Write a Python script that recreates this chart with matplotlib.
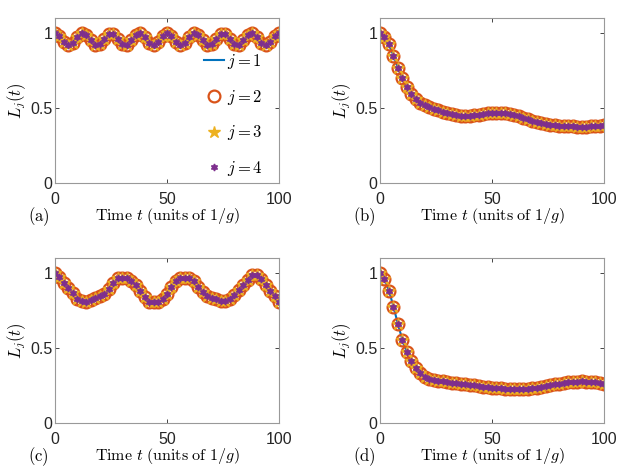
import numpy as np
import matplotlib
matplotlib.use('Agg')
import matplotlib.pyplot as plt

plt.rcParams['font.family'] = ['Liberation Sans', 'DejaVu Sans']
plt.rcParams['mathtext.fontset'] = 'cm'

# time grid (units of 1/g)
t = np.arange(0, 101, 2)

# panel (a)
L_a = [1.000, 0.981, 0.943, 0.920, 0.935, 0.972, 0.999, 0.989, 0.953, 0.923,
       0.928, 0.963, 0.995, 0.995, 0.963, 0.928, 0.923, 0.953, 0.989, 0.999,
       0.972, 0.935, 0.920, 0.943, 0.981, 1.000, 0.981, 0.943, 0.920, 0.935,
       0.972, 0.999, 0.989, 0.953, 0.923, 0.928, 0.963, 0.995, 0.995, 0.963,
       0.928, 0.923, 0.953, 0.989, 0.999, 0.972, 0.935, 0.920, 0.943, 0.981,
       1.000]

# panel (b)
L_b = [1.000, 0.975, 0.925, 0.850, 0.770, 0.700, 0.640, 0.595, 0.560, 0.535,
       0.518, 0.505, 0.495, 0.485, 0.475, 0.465, 0.457, 0.450, 0.447, 0.446,
       0.447, 0.450, 0.455, 0.460, 0.465, 0.468, 0.469, 0.468, 0.465, 0.460,
       0.452, 0.443, 0.434, 0.425, 0.416, 0.408, 0.400, 0.394, 0.389, 0.385,
       0.382, 0.380, 0.378, 0.377, 0.376, 0.376, 0.376, 0.377, 0.379, 0.381,
       0.384]

# panel (c)
L_c = [1.000, 0.976, 0.934, 0.898, 0.865, 0.831, 0.812, 0.809, 0.820, 0.836,
       0.849, 0.862, 0.893, 0.934, 0.965, 0.971, 0.967, 0.949, 0.922, 0.882,
       0.842, 0.809, 0.805, 0.809, 0.831, 0.862, 0.911, 0.949, 0.967, 0.971,
       0.967, 0.949, 0.911, 0.872, 0.849, 0.836, 0.825, 0.813, 0.815, 0.830,
       0.855, 0.885, 0.920, 0.955, 0.990, 0.990, 0.960, 0.922, 0.882, 0.850,
       0.810]

# panel (d)
L_d = [1.000, 0.963, 0.884, 0.777, 0.660, 0.554, 0.471, 0.410, 0.365, 0.330,
       0.308, 0.295, 0.287, 0.281, 0.276, 0.272, 0.268, 0.264, 0.260, 0.256,
       0.252, 0.249, 0.245, 0.242, 0.238, 0.235, 0.232, 0.229, 0.226, 0.224,
       0.223, 0.223, 0.224, 0.226, 0.230, 0.234, 0.239, 0.245, 0.250, 0.256,
       0.261, 0.266, 0.270, 0.273, 0.275, 0.276, 0.275, 0.273, 0.269, 0.264,
       0.259]

panels = [L_a, L_b, L_c, L_d]
panel_tags = ['(a)', '(b)', '(c)', '(d)']

W, H = 623, 475
fig = plt.figure(figsize=(W / 100, H / 100), dpi=100)

# axes boxes in pixels: left, top
boxes = [(55, 18.3), (380, 18.3), (55, 258.3), (380, 258.3)]
aw, ah = 224, 164.4

for L, tag, (lx, ty) in zip(panels, panel_tags, boxes):
    ax = fig.add_axes([lx / W, 1 - (ty + ah) / H, aw / W, ah / H])
    ax.plot(t, L, '-', color='#0072BD', lw=1.5, label='$j=1$')
    ax.plot(t, L, 'o', ls='none', mfc='none', mec='#D95319', ms=8.5, mew=1.6,
            label='$j=2$')
    ax.plot(t, L, '*', ls='none', color='#EDB120', ms=9, label='$j=3$')
    ax.plot(t, L, marker=(6, 1, 0), ls='none', color='#7E2F8E', ms=5,
            label='$j=4$')
    ax.set_xlim(0, 100)
    ax.set_ylim(0, 1.1)
    ax.set_xticks([0, 50, 100])
    ax.set_yticks([0, 0.5, 1])
    ax.set_yticklabels(['0', '0.5', '1'])
    ax.tick_params(direction='in', top=True, right=True, length=3,
                   width=0.6, color='#262626', labelsize=11.5,
                   labelcolor='#262626')
    ax.tick_params(axis='x', pad=7)
    ax.tick_params(axis='y', pad=2)
    for s in ax.spines.values():
        s.set_color('#999999')
        s.set_linewidth(0.8)
    ax.set_xlabel(r'$\mathrm{Time}\ t\ \mathrm{(units\ of}\ 1/g\mathrm{)}$',
                  fontsize=11.5, labelpad=-1)
    ax.set_ylabel('$L_j(t)$', fontsize=12, labelpad=1.5)
    ax.text(-0.12, -0.233, r'$\mathrm{' + tag + '}$', transform=ax.transAxes,
            fontsize=12, ha='left', va='baseline')
    if tag == '(a)':
        ax.legend(loc='upper right', bbox_to_anchor=(0.98, 0.865), frameon=False,
                  fontsize=12, handlelength=1.2, handletextpad=0.2,
                  labelspacing=1.0, borderpad=0.2)

fig.savefig('out.png', dpi=100)
